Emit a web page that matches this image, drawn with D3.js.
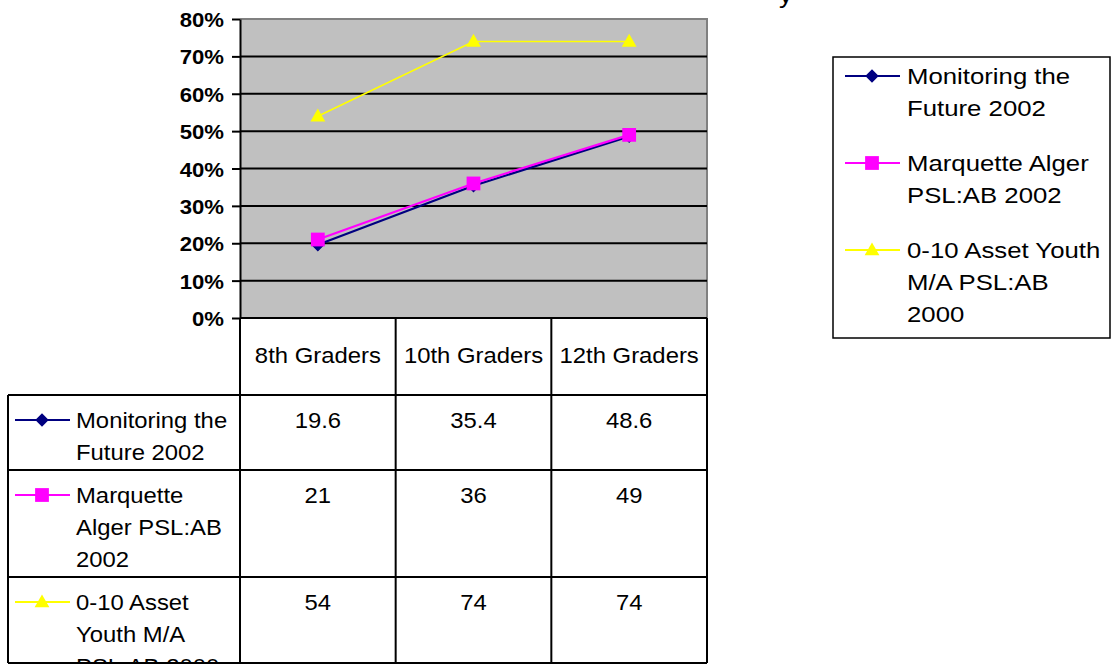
<!DOCTYPE html>
<html>
<head>
<meta charset="utf-8">
<script src="https://cdn.jsdelivr.net/npm/d3@7"></script>
<style>
  html, body { margin: 0; padding: 0; background: #ffffff; }
  svg { display: block; font-family: "Liberation Sans", Arial, sans-serif; }
</style>
</head>
<body>
<svg id="chart" width="1114" height="664"></svg>
<script>
// Grade levels along the category axis
const categories = ["8th Graders", "10th Graders", "12th Graders"];

// Series names (legend / data table row headers)
const seriesNames = [
  "Monitoring the Future 2002",
  "Marquette Alger PSL:AB 2002",
  "0-10 Asset Youth M/A PSL:AB 2000"
];

// Percent values per grade
const monitoringFuture = [19.6, 35.4, 48.6];
const marquetteAlger = [21, 36, 49];
const assetYouth = [54, 74, 74];

// Value axis ticks (percent)
const yTicks = [0, 10, 20, 30, 40, 50, 60, 70, 80];

const seriesValues = [monitoringFuture, marquetteAlger, assetYouth];
const seriesColors = ["#000080", "#FF00FF", "#FFFF00"];
const seriesShapes = ["diamond", "square", "triangle"];

const svg = d3.select("#chart");
const FONT_STRETCH = 1.12;

const plot = { left: 240, right: 707, top: 19, bottom: 318 };

const x = d3.scaleBand().domain(categories).range([plot.left, plot.right]).padding(0);
const y = d3.scaleLinear().domain([0, 80]).range([plot.bottom, plot.top]);

// Places a horizontally widened text label at (px, py)
function label(g, txt, px, py, opts = {}) {
  return g.append("text")
    .attr("transform", `translate(${px},${py}) scale(${FONT_STRETCH},1)`)
    .attr("text-anchor", opts.anchor || "start")
    .attr("font-size", opts.size || 21)
    .attr("font-weight", opts.weight || "normal")
    .attr("fill", "#000")
    .text(txt);
}

// Word-wrap helper using measured text width
function wrapWords(txt, maxWidth, size) {
  const probe = svg.append("text").attr("font-size", size).attr("visibility", "hidden");
  const words = txt.split(" ");
  const lines = [];
  let cur = "";
  words.forEach(w => {
    const test = cur ? cur + " " + w : w;
    probe.text(test);
    if (probe.node().getComputedTextLength() * FONT_STRETCH > maxWidth && cur) {
      lines.push(cur);
      cur = w;
    } else {
      cur = test;
    }
  });
  if (cur) lines.push(cur);
  probe.remove();
  return lines;
}

function marker(g, shape, color, cx, cy) {
  if (shape === "diamond") {
    g.append("path")
      .attr("d", d3.symbol().type(d3.symbolSquare).size(72)())
      .attr("transform", `translate(${cx},${cy}) rotate(45)`)
      .attr("fill", color).attr("stroke", color).attr("stroke-width", 1);
  } else if (shape === "square") {
    g.append("path")
      .attr("d", d3.symbol().type(d3.symbolSquare).size(190)())
      .attr("transform", `translate(${cx},${cy})`)
      .attr("fill", color);
  } else {
    g.append("path")
      .attr("d", d3.symbol().type(d3.symbolTriangle).size(95)())
      .attr("transform", `translate(${cx},${cy + 1})`)
      .attr("fill", color);
  }
}

// Title text, mostly above the visible area
label(svg, "y", 779, 3, { size: 24 });

// Plot area background
svg.append("rect")
  .attr("x", plot.left).attr("y", plot.top)
  .attr("width", plot.right - plot.left).attr("height", plot.bottom - plot.top)
  .attr("fill", "#C0C0C0");
svg.append("path")
  .attr("d", `M${plot.left},${plot.top}H${plot.right}V${plot.bottom}`)
  .attr("fill", "none").attr("stroke", "#808080").attr("stroke-width", 2);

// Horizontal gridlines
svg.append("g").selectAll("line")
  .data(yTicks.filter(t => t > 0 && t < 80))
  .join("line")
  .attr("x1", plot.left).attr("x2", plot.right)
  .attr("y1", d => y(d)).attr("y2", d => y(d))
  .attr("stroke", "#000").attr("stroke-width", 2);

// Value axis
const yAxis = svg.append("g")
  .attr("transform", `translate(${plot.left},0)`)
  .call(d3.axisLeft(y).tickValues(yTicks).tickSize(8).tickSizeOuter(0).tickFormat(d => d + "%"));
yAxis.select(".domain").attr("stroke", "#000").attr("stroke-width", 2);
yAxis.selectAll(".tick line").attr("stroke", "#000").attr("stroke-width", 2);
yAxis.selectAll(".tick text")
  .attr("x", null).attr("dy", null)
  .attr("transform", `translate(-16,7.5) scale(1.08,1)`)
  .attr("font-size", 20.5).attr("font-weight", "bold")
  .attr("font-family", "'Liberation Sans', Arial, sans-serif")
  .attr("fill", "#000");

// Series lines and markers
const lineGen = d3.line().x((d, i) => x(categories[i]) + x.bandwidth() / 2).y(d => y(d));
seriesValues.forEach((vals, s) => {
  const g = svg.append("g");
  g.append("path")
    .attr("d", lineGen(vals))
    .attr("fill", "none")
    .attr("stroke", seriesColors[s])
    .attr("stroke-width", s === 2 ? 1.6 : 2.2);
  vals.forEach((v, i) => marker(g, seriesShapes[s], seriesColors[s], x(categories[i]) + x.bandwidth() / 2, y(v)));
});

// Data table
const table = svg.append("g");
const tableLeft = 8;
const tableBottom = 663;
const headerBottom = 395;
const lineH = 32;
const rowLines = seriesNames.map(n => wrapWords(n, 156, 21.3));
const rowTops = [];
let ty = headerBottom;
rowLines.forEach(lines => { rowTops.push(ty); ty += lines.length * lineH + 11; });

// Category headers
categories.forEach(c => label(table, c, x(c) + x.bandwidth() / 2, 363, { anchor: "middle", size: 21.3 }));

// Row headers with series keys, and values
rowLines.forEach((lines, s) => {
  const top = rowTops[s];
  const keyY = top + 25;
  table.append("line")
    .attr("x1", 15).attr("x2", 70).attr("y1", keyY).attr("y2", keyY)
    .attr("stroke", seriesColors[s]).attr("stroke-width", 2);
  marker(table, seriesShapes[s], seriesColors[s], 42, keyY);
  lines.forEach((ln, k) => label(table, ln, 76, top + 33 + k * lineH, { size: 21.3 }));
  seriesValues[s].forEach((v, i) =>
    label(table, String(v), x(categories[i]) + x.bandwidth() / 2, top + 33, { anchor: "middle", size: 21.3 }));
});

// Table grid
const gridColor = "#000";
const colEdges = [plot.left, ...categories.map(c => x(c) + x.bandwidth())];
table.append("line").attr("x1", plot.left).attr("x2", plot.right)
  .attr("y1", plot.bottom).attr("y2", plot.bottom).attr("stroke", gridColor).attr("stroke-width", 2);
[...rowTops, tableBottom].forEach(yy => {
  table.append("line").attr("x1", tableLeft).attr("x2", plot.right)
    .attr("y1", yy).attr("y2", yy).attr("stroke", gridColor).attr("stroke-width", 2);
});
table.append("line").attr("x1", tableLeft).attr("x2", tableLeft)
  .attr("y1", headerBottom).attr("y2", tableBottom).attr("stroke", gridColor).attr("stroke-width", 2);
colEdges.forEach(xx => {
  table.append("line").attr("x1", xx).attr("x2", xx)
    .attr("y1", plot.bottom).attr("y2", tableBottom).attr("stroke", gridColor).attr("stroke-width", 2);
});

// Legend
const legend = svg.append("g");
legend.append("rect")
  .attr("x", 833).attr("y", 57).attr("width", 277).attr("height", 281)
  .attr("fill", "#fff").attr("stroke", "#000").attr("stroke-width", 1.5);
seriesNames.forEach((n, s) => {
  const top = 57 + s * 87;
  const keyY = top + 19;
  legend.append("line")
    .attr("x1", 845).attr("x2", 900).attr("y1", keyY).attr("y2", keyY)
    .attr("stroke", seriesColors[s]).attr("stroke-width", 2);
  marker(legend, seriesShapes[s], seriesColors[s], 872, keyY);
  wrapWords(n, 203, 23).forEach((ln, k) => label(legend, ln, 907, top + 27 + k * lineH, { size: 23 }));
});
</script>
</body>
</html>
